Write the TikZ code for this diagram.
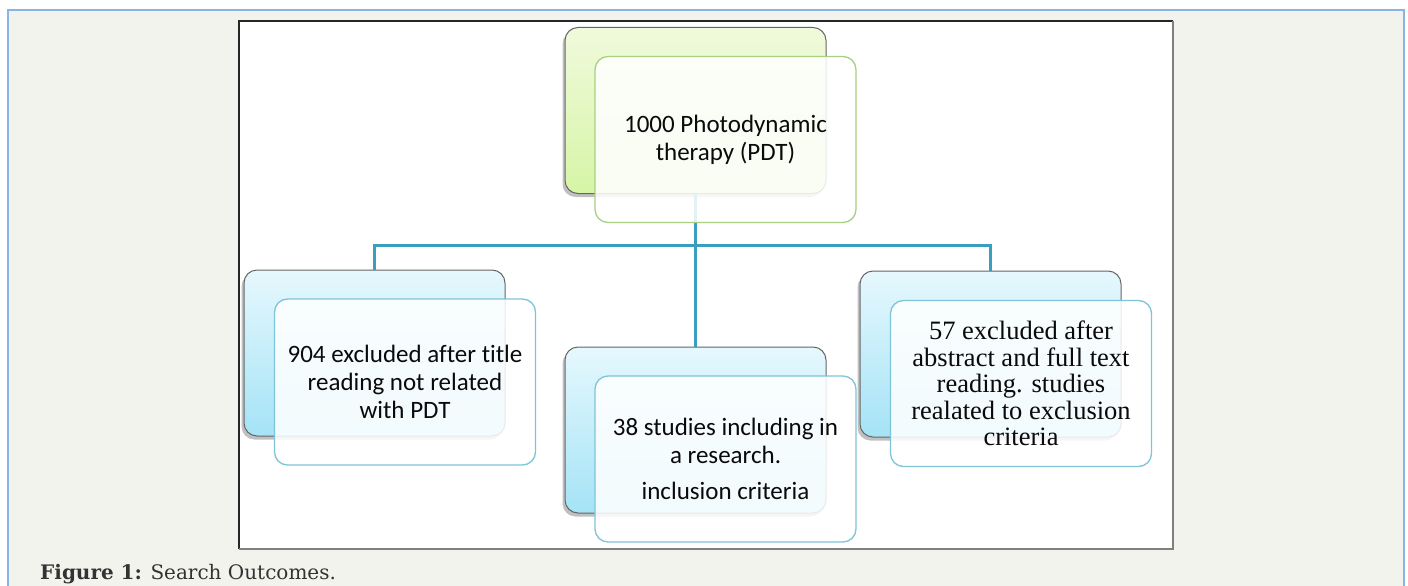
\documentclass[tikz,border=0pt]{standalone}
\usepackage{fontspec}
\setmainfont{Carlito}[Ligatures=NoCommon]
\newfontfamily\boxserif{Liberation Serif}
\newfontfamily\capfont{DejaVu Serif}
\usetikzlibrary{shadows,backgrounds}
\definecolor{pagebg}{HTML}{F3F3EE}
\definecolor{framebl}{HTML}{8AB4E8}
\definecolor{connc}{HTML}{3A9EBE}
\definecolor{gtop}{HTML}{F0FADC}
\definecolor{gbot}{HTML}{D6F5A6}
\definecolor{btop}{HTML}{E6F8FD}
\definecolor{bbot}{HTML}{A4E3F6}
\definecolor{gedge}{HTML}{A9CF82}
\definecolor{bedge}{HTML}{7EC4DA}
\definecolor{txt}{HTML}{0A0A0A}
\tikzset{
  backbox/.style={rectangle, rounded corners=13pt, minimum width=261pt, minimum height=166pt,
    draw=gray!80!black, line width=1pt, inner sep=0pt,
    drop shadow={shadow xshift=-2.5pt, shadow yshift=-3.5pt, opacity=0.35, fill=black!70}},
  greenback/.style={backbox, top color=gtop, bottom color=gbot},
  blueback/.style={backbox, top color=btop, bottom color=bbot},
  frontbox/.style={rectangle, rounded corners=13pt, minimum width=261pt, minimum height=166pt,
    fill=white, fill opacity=0.86, text opacity=1, line width=1.3pt, align=center,
    font=\fontsize{25}{28}\selectfont, text=txt},
  greenfront/.style={frontbox, draw=gedge},
  bluefront/.style={frontbox, draw=bedge},
  conn/.style={draw=connc, line width=3pt},
}
\begin{document}
\begin{tikzpicture}[x=1pt,y=-1pt]
\useasboundingbox (0,0) rectangle (1408,586);
% page background
\fill[white] (0,0) rectangle (1408,586);
\fill[pagebg] (8,10) rectangle (1404,586);
\draw[framebl, line width=2pt] (8,586) -- (8,10) -- (1404,10) -- (1404,586);
% image frame
\fill[white] (239,21) rectangle (1173,549);
\draw[black!85, line width=1.5pt] (239,549) -- (239,21) -- (1173,21);
\draw[gray, line width=1.5pt] (1173,21) -- (1173,549) -- (239,549);

% back boxes
\node[greenback] (tb) at (695.5,110.5) {};
\node[blueback] (lb) at (374.5,353) {};
\node[blueback] (mb) at (695.5,430) {};
\node[blueback] (rb) at (990.5,354) {};

% connectors
\coordinate (j) at (695.5,245);
\draw[conn] (tb.south) -- (j);
\draw[conn] (j) -| (lb.north);
\draw[conn] (j) -| (rb.north);
\draw[conn] (j) -- (mb.north);

% front boxes
\node[greenfront] (tf) at (725.5,139.5) {1000 Photodynamic\\therapy (PDT)};
\node[bluefront] (lf) at (405,382) {904 excluded after title\\reading not related\\with PDT};
\node[bluefront] (mf) at (725.5,459) {38 studies including in\\a research.\\[8pt]inclusion criteria};
\node[bluefront, font=\boxserif\fontsize{26.5}{26.5}\selectfont] (rf) at (1021,383.5)
  {57 excluded after\\abstract and full text\\reading. studies\\realated to exclusion\\criteria};

% caption
\node[anchor=base west, inner sep=0pt, text=black!80, font=\capfont\fontsize{20}{22}\selectfont] (cap) at (40,579)
  {\textbf{Figure 1:} Search Outcomes.};
\end{tikzpicture}
\end{document}
